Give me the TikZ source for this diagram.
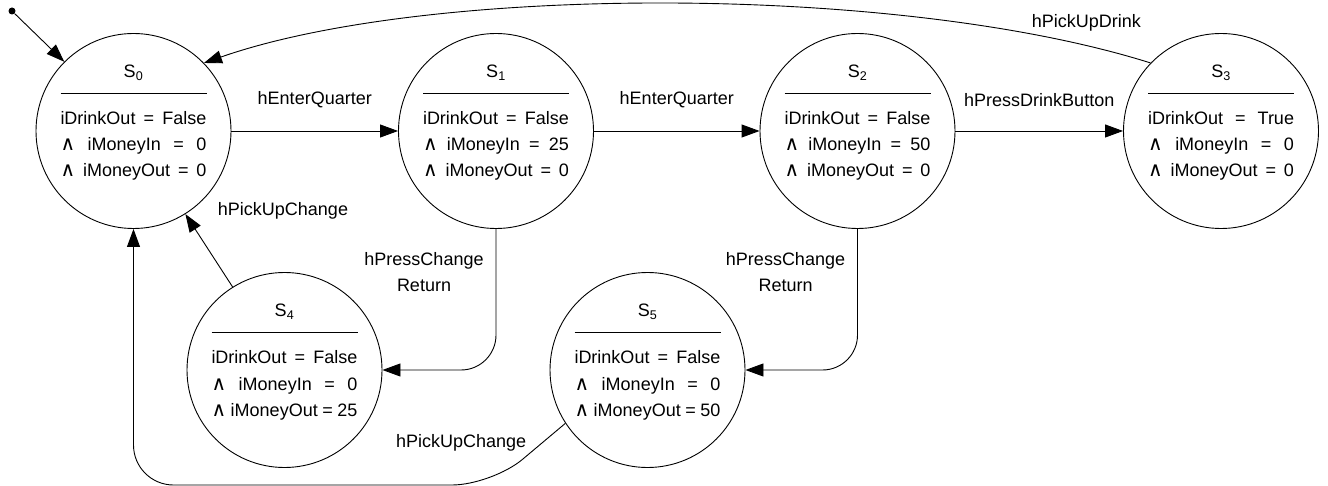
\documentclass[tikz,border=0pt]{standalone}
\usepackage{fontspec}
\setmainfont{Liberation Sans}
\newfontfamily\symfont{DejaVu Sans}
\usetikzlibrary{arrows.meta,positioning}

\tikzset{
  state/.style={circle, draw, line width=0.9pt, minimum size=195pt, inner sep=0pt},
  statetext/.style={anchor=base, inner sep=0pt, font=\fontsize{18}{26}\selectfont},
  staterule/.style={line width=1.3pt},
  lbl/.style={font=\fontsize{18}{26}\selectfont, align=center, inner sep=2pt},
  edge/.style={line width=0.9pt, -{Triangle[length=18pt,width=13pt]}},
  initdot/.style={circle, fill, inner sep=0pt, minimum size=7pt},
}

\newcommand{\stateline}[1]{\makebox[146pt][s]{#1}}
\newcommand{\andsym}{{\symfont\fontsize{20}{20}\selectfont ∧}}

% #1 name, #2 position, #3 index, #4 iDrinkOut, #5 iMoneyIn, #6 iMoneyOut
\newcommand{\statenode}[6]{%
  \node[state] (#1) at #2 {}; %
  \node[statetext] (#1-name) at ([yshift=53.5pt]#1.center) {S\textsubscript{#3}}; %
  \draw[staterule] ([xshift=-73pt,yshift=37.5pt]#1.center) -- ([xshift=73pt,yshift=37.5pt]#1.center); %
  \node[statetext] (#1-drink) at ([yshift=6.5pt]#1.center) {\stateline{iDrinkOut = #4}}; %
  \node[statetext] (#1-in) at ([yshift=-20pt]#1.center) {\stateline{\andsym{} iMoneyIn = #5}}; %
  \node[statetext] (#1-out) at ([yshift=-46pt]#1.center) {\stateline{\andsym{} iMoneyOut = #6}}; %
}

\begin{document}
\begin{tikzpicture}[x=1pt, y=-1pt]

  \useasboundingbox (0,0) rectangle (1328,486);

  % Layout the states
  \statenode {s0} {(133.5,131)} {0} {False} {0}  {0}
  \statenode {s1} {(496,131)}   {1} {False} {25} {0}
  \statenode {s2} {(857.5,131)} {2} {False} {50} {0}
  \statenode {s3} {(1221,131)}  {3} {True}  {0}  {0}
  \statenode {s4} {(284.5,370)} {4} {False} {0}  {25}
  \statenode {s5} {(647.5,370)} {5} {False} {0}  {50}

  % Initial state
  \node[initdot] (init) at (12,11) {}; %
  \draw[edge] (init) -- (s0.135); %

  % Forward transitions
  \draw[edge] (s0) -- node[lbl, yshift=31pt] (l01) {hEnterQuarter} (s1); %
  \draw[edge] (s1) -- node[lbl, yshift=31pt] (l12) {hEnterQuarter} (s2); %
  \draw[edge] (s2) -- node[lbl, yshift=31pt] (l23) {hPressDrinkButton} (s3); %

  % Change return
  \draw[edge, rounded corners=35pt] (s1.south) |- %
    node[lbl, pos=0.154, left=10pt] (l14) {hPressChange\\Return} (s4.east); %
  \draw[edge, rounded corners=35pt] (s2.south) |- %
    node[lbl, pos=0.154, left=10pt] (l25) {hPressChange\\Return} (s5.east); %

  % Back to the start
  \draw[edge] (s3.136) .. controls (900,-16) and (430,-16) .. %
    node[lbl, pos=0.08, above=12pt] (l30) {hPickUpDrink} (s0.44); %
  \draw[edge] (s4.122) -- (s0.-58); %
  \node[lbl] (l40) at (283,211) {hPickUpChange}; %
  \coordinate (bend5) at (492,485); %
  \draw[edge, rounded corners=40pt] (s5.213) -- %
    node[lbl, anchor=south east] (l50) {hPickUpChange} (bend5) -- %
    (s0 |- bend5) -- (s0.south); %

\end{tikzpicture}
\end{document}
